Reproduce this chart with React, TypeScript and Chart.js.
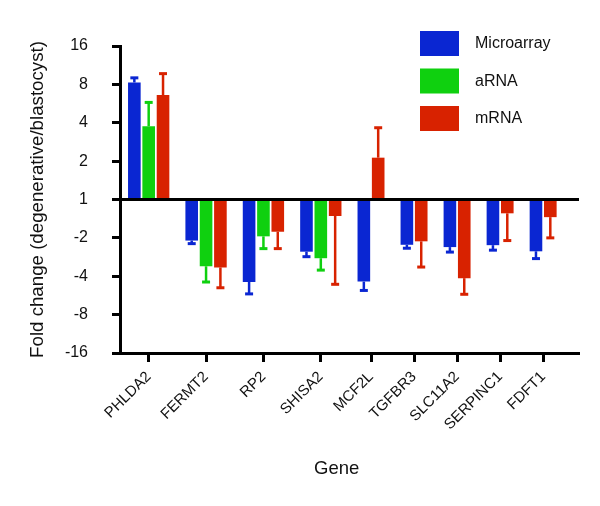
import React, { useEffect, useRef } from "react";
import { Chart, registerables } from "chart.js";

Chart.register(...registerables);

// Genes (x categories)
const genes = ["PHLDA2", "FERMT2", "RP2", "SHISA2", "MCF2L", "TGFBR3", "SLC11A2", "SERPINC1", "FDFT1"];

// Fold change in log2 units (positive = up, negative = down); null = not measured
const microarray = [3.05, -1.07, -2.15, -1.36, -2.14, -1.18, -1.24, -1.19, -1.35];
const microarrayErr = [0.12, 0.08, 0.31, 0.13, 0.23, 0.09, 0.13, 0.13, 0.19];
const arna: (number | null)[] = [1.91, -1.74, -0.96, -1.53, null, null, null, null, null];
const arnaErr: (number | null)[] = [0.62, 0.41, 0.32, 0.31, null, null, null, null, null];
const mrna = [2.72, -1.77, -0.84, -0.43, 1.09, -1.09, -2.05, -0.36, -0.46];
const mrnaErr = [0.56, 0.53, 0.44, 1.78, 0.78, 0.67, 0.42, 0.71, 0.54];

// y tick values (log2 units) and their labels
const yTickValues = [-4, -3, -2, -1, 0, 1, 2, 3, 4];
const yTickLabels = ["-16", "-8", "-4", "-2", "1", "2", "4", "8", "16"];

const BLUE = "#0a26d2";
const GREEN = "#0fd00f";
const RED = "#d82200";
const FONT = "'Liberation Sans', Arial, Helvetica, sans-serif";

const errorBarsPlugin = {
  id: "errorBars",
  afterDatasetsDraw(chart: any) {
    const ctx = chart.ctx;
    const yScale = chart.scales.y;
    chart.data.datasets.forEach((ds: any, di: number) => {
      const meta = chart.getDatasetMeta(di);
      meta.data.forEach((bar: any, j: number) => {
        const p = ds.data[j];
        if (!p || p.err == null) return;
        const dir = p.y >= 0 ? 1 : -1;
        const y0 = yScale.getPixelForValue(p.y);
        const y1 = yScale.getPixelForValue(p.y + dir * p.err);
        ctx.save();
        ctx.strokeStyle = ds.backgroundColor;
        ctx.lineWidth = 2.5;
        ctx.beginPath();
        ctx.moveTo(bar.x, y0);
        ctx.lineTo(bar.x, y1);
        ctx.stroke();
        ctx.lineWidth = 3;
        ctx.beginPath();
        ctx.moveTo(bar.x - 4, y1);
        ctx.lineTo(bar.x + 4, y1);
        ctx.stroke();
        ctx.restore();
      });
    });
  },
};

const legendPlugin = {
  id: "boxLegend",
  afterDraw(chart: any) {
    const ctx = chart.ctx;
    const area = chart.chartArea;
    const left = area.right - 159;
    const top = 31;
    ctx.save();
    ctx.font = `16px ${FONT}`;
    ctx.textBaseline = "middle";
    ctx.textAlign = "left";
    chart.data.datasets.forEach((ds: any, i: number) => {
      const y = top + i * 37.5;
      ctx.fillStyle = ds.backgroundColor;
      ctx.fillRect(left, y, 39, 25);
      ctx.fillStyle = "#111";
      ctx.fillText(ds.label, left + 55, y + 13);
    });
    ctx.restore();
  },
};

export default function App() {
  const ref = useRef<HTMLCanvasElement>(null);

  useEffect(() => {
    const series = [
      { label: "Microarray", values: microarray as (number | null)[], errors: microarrayErr as (number | null)[], color: BLUE },
      { label: "aRNA", values: arna, errors: arnaErr, color: GREEN },
      { label: "mRNA", values: mrna as (number | null)[], errors: mrnaErr as (number | null)[], color: RED },
    ];
    const slotData: any[][] = series.map(() => []);
    const centers: number[] = [];
    let pos = 0;
    genes.forEach((_g, i) => {
      const start = pos;
      series.forEach((s, k) => {
        const v = s.values[i];
        if (v !== null && v !== undefined) {
          slotData[k].push({ x: pos, y: v, err: s.errors[i] });
          pos++;
        }
      });
      centers.push((start + pos - 1) / 2);
      pos++;
    });

    const chart = new Chart(ref.current!, {
      type: "bar",
      data: {
        datasets: series.map((s, k) => ({
          label: s.label,
          data: slotData[k],
          backgroundColor: s.color,
          borderWidth: 0,
          grouped: false,
          barPercentage: 0.88,
          categoryPercentage: 1,
        })),
      },
      options: {
        animation: false,
        responsive: true,
        maintainAspectRatio: false,
        layout: { padding: { left: 0, top: 46, right: 21, bottom: 0 } },
        plugins: { legend: { display: false }, tooltip: { enabled: false } },
        scales: {
          x: {
            type: "linear",
            min: -1,
            max: pos,
            offset: false,
            afterBuildTicks: (scale: any) => {
              scale.ticks = centers.map((v) => ({ value: v }));
            },
            afterFit: (scale: any) => {
              scale.height = 153;
            },
            ticks: {
              autoSkip: false,
              minRotation: 45,
              maxRotation: 45,
              padding: 6,
              color: "#111",
              font: { family: FONT, size: 15 },
              callback: (_v: any, i: number) => genes[i],
            },
            grid: {
              offset: false,
              drawOnChartArea: false,
              drawTicks: true,
              tickLength: 9,
              tickWidth: 3,
              tickColor: "#000",
            },
            border: { color: "#000", width: 3 },
            title: {
              display: true,
              text: "Gene     ",
              color: "#111",
              font: { family: FONT, size: 18.5 },
              padding: { top: 4, bottom: 26 },
            },
          },
          y: {
            type: "linear",
            min: -4,
            max: 4,
            afterBuildTicks: (scale: any) => {
              scale.ticks = yTickValues.map((v) => ({ value: v }));
            },
            afterFit: (scale: any) => {
              scale.width = 120;
            },
            ticks: {
              padding: 24,
              color: "#111",
              font: { family: FONT, size: 16 },
              callback: (v: any) => yTickLabels[yTickValues.indexOf(Number(v))],
            },
            grid: {
              color: (c: any) => (c.tick && c.tick.value === 0 ? "#000" : "rgba(0,0,0,0)"),
              lineWidth: 3,
              tickLength: 8,
              tickWidth: 3,
              tickColor: "#000",
            },
            border: { color: "#000", width: 3 },
            title: {
              display: true,
              text: "Fold change (degenerative/blastocyst)",
              color: "#111",
              font: { family: FONT, size: 18.7 },
              padding: { top: 27, bottom: 4 },
            },
          },
        },
      },
      plugins: [errorBarsPlugin, legendPlugin],
    } as any);

    return () => chart.destroy();
  }, []);

  return (
    <div style={{ position: "absolute", left: 0, top: 0, width: 600, height: 506, background: "#fff" }}>
      <canvas ref={ref} />
    </div>
  );
}
